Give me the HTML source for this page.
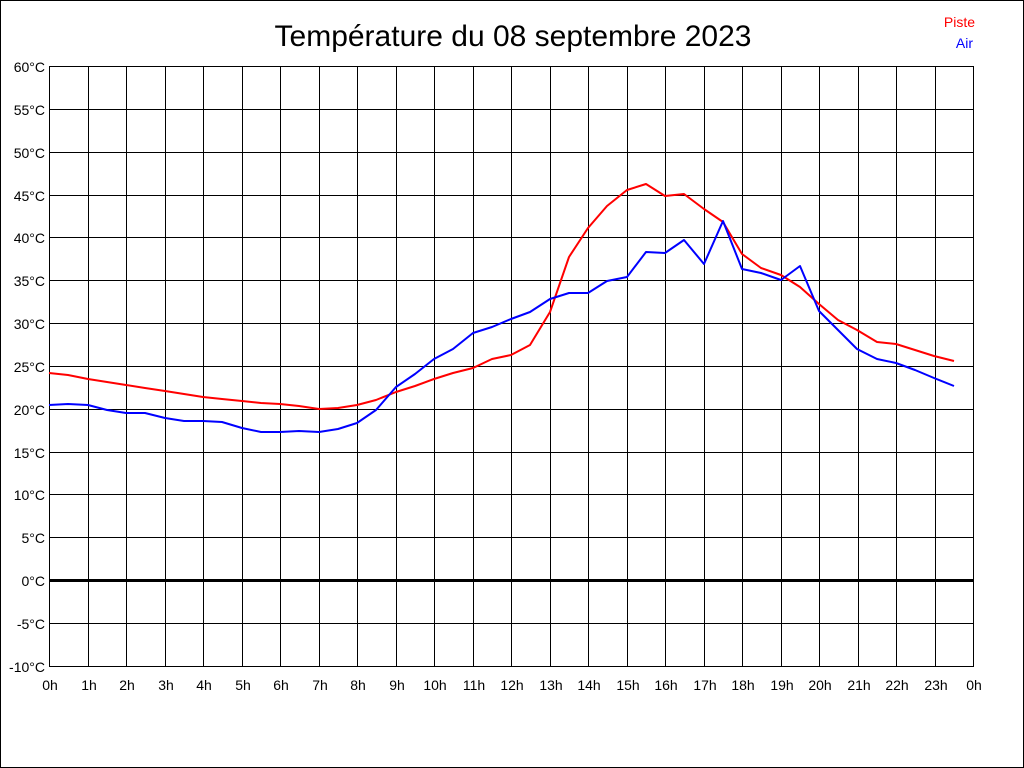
<!DOCTYPE html>
<html><head><meta charset="utf-8"><style>
html,body{margin:0;padding:0;background:#fff;}
svg{display:block;}
text{font-family:"Liberation Sans",Arial,sans-serif;}
</style></head><body>
<svg width="1024" height="768" viewBox="0 0 1024 768" xmlns="http://www.w3.org/2000/svg">
<rect x="0.5" y="0.5" width="1023" height="767" fill="#fff" stroke="#000" stroke-width="1"/>
<text x="513" y="46" font-size="30" text-anchor="middle" fill="#000">Température du 08 septembre 2023</text>
<text x="975" y="27" font-size="14" text-anchor="end" fill="#f00">Piste</text>
<text x="973" y="48" font-size="14" text-anchor="end" fill="#00f">Air</text>
<g stroke="#000" stroke-width="1" shape-rendering="crispEdges">
<line x1="49.5" y1="66" x2="49.5" y2="667"/>
<line x1="88.5" y1="66" x2="88.5" y2="667"/>
<line x1="126.5" y1="66" x2="126.5" y2="667"/>
<line x1="165.5" y1="66" x2="165.5" y2="667"/>
<line x1="203.5" y1="66" x2="203.5" y2="667"/>
<line x1="242.5" y1="66" x2="242.5" y2="667"/>
<line x1="280.5" y1="66" x2="280.5" y2="667"/>
<line x1="319.5" y1="66" x2="319.5" y2="667"/>
<line x1="357.5" y1="66" x2="357.5" y2="667"/>
<line x1="396.5" y1="66" x2="396.5" y2="667"/>
<line x1="434.5" y1="66" x2="434.5" y2="667"/>
<line x1="473.5" y1="66" x2="473.5" y2="667"/>
<line x1="511.5" y1="66" x2="511.5" y2="667"/>
<line x1="550.5" y1="66" x2="550.5" y2="667"/>
<line x1="588.5" y1="66" x2="588.5" y2="667"/>
<line x1="627.5" y1="66" x2="627.5" y2="667"/>
<line x1="665.5" y1="66" x2="665.5" y2="667"/>
<line x1="704.5" y1="66" x2="704.5" y2="667"/>
<line x1="742.5" y1="66" x2="742.5" y2="667"/>
<line x1="781.5" y1="66" x2="781.5" y2="667"/>
<line x1="819.5" y1="66" x2="819.5" y2="667"/>
<line x1="858.5" y1="66" x2="858.5" y2="667"/>
<line x1="896.5" y1="66" x2="896.5" y2="667"/>
<line x1="935.5" y1="66" x2="935.5" y2="667"/>
<line x1="973.5" y1="66" x2="973.5" y2="667"/>
<line x1="49" y1="66.5" x2="974" y2="66.5"/>
<line x1="49" y1="109.5" x2="974" y2="109.5"/>
<line x1="49" y1="152.5" x2="974" y2="152.5"/>
<line x1="49" y1="195.5" x2="974" y2="195.5"/>
<line x1="49" y1="237.5" x2="974" y2="237.5"/>
<line x1="49" y1="280.5" x2="974" y2="280.5"/>
<line x1="49" y1="323.5" x2="974" y2="323.5"/>
<line x1="49" y1="366.5" x2="974" y2="366.5"/>
<line x1="49" y1="409.5" x2="974" y2="409.5"/>
<line x1="49" y1="452.5" x2="974" y2="452.5"/>
<line x1="49" y1="494.5" x2="974" y2="494.5"/>
<line x1="49" y1="537.5" x2="974" y2="537.5"/>
<line x1="49" y1="623.5" x2="974" y2="623.5"/>
<line x1="49" y1="666.5" x2="974" y2="666.5"/>
</g>
<line x1="49" y1="580.5" x2="974" y2="580.5" stroke="#000" stroke-width="3" shape-rendering="crispEdges"/>
<g font-size="14" text-anchor="end" fill="#000">
<text x="45" y="72">60°C</text>
<text x="45" y="115">55°C</text>
<text x="45" y="158">50°C</text>
<text x="45" y="201">45°C</text>
<text x="45" y="243">40°C</text>
<text x="45" y="286">35°C</text>
<text x="45" y="329">30°C</text>
<text x="45" y="372">25°C</text>
<text x="45" y="415">20°C</text>
<text x="45" y="458">15°C</text>
<text x="45" y="500">10°C</text>
<text x="45" y="543">5°C</text>
<text x="45" y="586">0°C</text>
<text x="45" y="629">-5°C</text>
<text x="45" y="672">-10°C</text>
</g>
<g font-size="14" text-anchor="middle" fill="#000">
<text x="50" y="690">0h</text>
<text x="89" y="690">1h</text>
<text x="127" y="690">2h</text>
<text x="166" y="690">3h</text>
<text x="204" y="690">4h</text>
<text x="243" y="690">5h</text>
<text x="281" y="690">6h</text>
<text x="320" y="690">7h</text>
<text x="358" y="690">8h</text>
<text x="397" y="690">9h</text>
<text x="435" y="690">10h</text>
<text x="474" y="690">11h</text>
<text x="512" y="690">12h</text>
<text x="551" y="690">13h</text>
<text x="589" y="690">14h</text>
<text x="628" y="690">15h</text>
<text x="666" y="690">16h</text>
<text x="705" y="690">17h</text>
<text x="743" y="690">18h</text>
<text x="782" y="690">19h</text>
<text x="820" y="690">20h</text>
<text x="859" y="690">21h</text>
<text x="897" y="690">22h</text>
<text x="936" y="690">23h</text>
<text x="974" y="690">0h</text>
</g>
<polyline fill="none" stroke="#f00" stroke-width="2" stroke-linejoin="round" points="49,373 68,375 88,379 107,382 126,385 145,388 165,391 184,394 203,397 222,399 242,401 261,403 280,404 299,406 319,409 338,408 357,405 376,400 396,392 415,386 434,379 453,373 473,368 492,359 511,355 530,345 550,312 569,257 588,228 607,206 627,190 646,184 665,196 684,194 704,209 723,222 742,254 761,268 781,275 800,287 819,304 838,320 857,330 877,342 896,344 915,350 934,356 954,361"/>
<polyline fill="none" stroke="#00f" stroke-width="2" stroke-linejoin="round" points="49,405 68,404 88,405 107,410 126,413 145,413 165,418 184,421 203,421 222,422 242,428 261,432 280,432 299,431 319,432 338,429 357,423 376,410 396,387 415,374 434,359 453,349 473,333 492,327 511,319 530,312 550,299 569,293 588,293 607,281 627,277 646,252 665,253 684,240 704,264 723,221 742,269 761,273 781,280 800,266 819,311 838,330 857,349 877,359 896,363 915,370 934,378 954,386"/>
</svg>
</body></html>
